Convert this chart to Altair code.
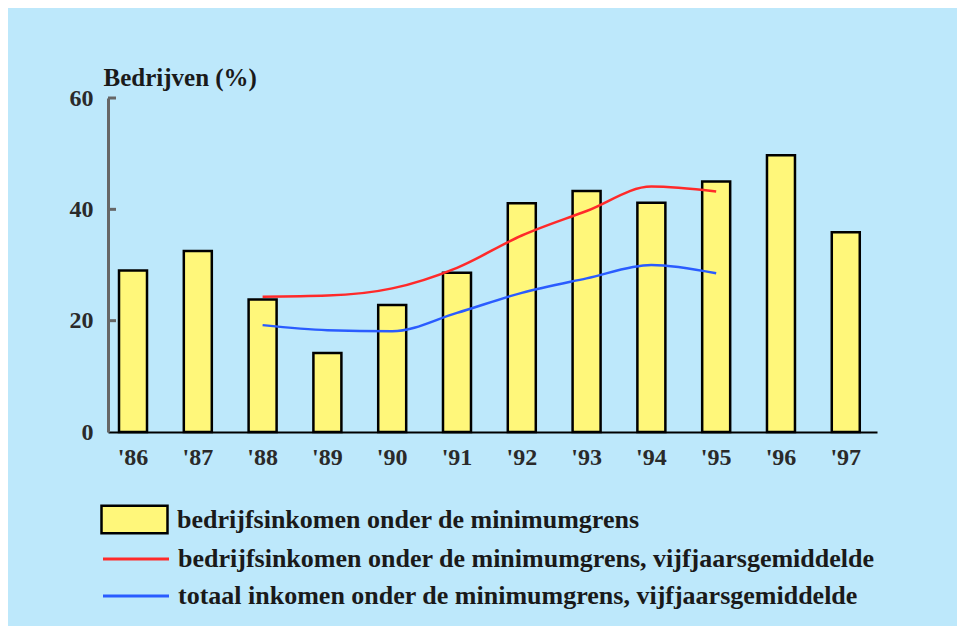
import altair as alt
import pandas as pd

years = ["'86", "'87", "'88", "'89", "'90", "'91", "'92", "'93", "'94", "'95", "'96", "'97"]
bar_values = [29.0, 32.5, 23.8, 14.2, 22.8, 28.6, 41.1, 43.3, 41.2, 45.0, 49.7, 35.9]

line_years = ["'88", "'89", "'90", "'91", "'92", "'93", "'94", "'95"]
red_values = [24.3, 24.5, 25.8, 29.5, 35.3, 39.7, 44.1, 43.2]
blue_values = [19.2, 18.3, 18.1, 21.4, 25.0, 27.6, 30.0, 28.5]

y_ticks = [20, 40, 60]

lab_bar = "bedrijfsinkomen onder de minimumgrens"
lab_red = "bedrijfsinkomen onder de minimumgrens, vijfjaarsgemiddelde"
lab_blue = "totaal inkomen onder de minimumgrens, vijfjaarsgemiddelde"

FONT = "'Liberation Serif', 'Times New Roman', Times, serif"

bar_df = pd.DataFrame({"jaar": years, "waarde": bar_values, "serie": lab_bar})
line_df = pd.DataFrame({
    "jaar": line_years * 2,
    "waarde": red_values + blue_values,
    "serie": [lab_red] * len(line_years) + [lab_blue] * len(line_years),
})
tick_df = pd.DataFrame({"waarde": y_ticks})

x_scale = alt.Scale(domain=years, paddingInner=0.568, paddingOuter=0.218, align=0.39)
y_scale = alt.Scale(domain=[0, 60], nice=False, zero=True)

x_axis = alt.Axis(labelAngle=0, ticks=False, domainColor="black", domainWidth=2,
                  labelFont=FONT, labelFontSize=24, labelFontWeight="bold",
                  labelColor="#2a2a2a", labelPadding=13)
y_axis = alt.Axis(values=[0, 20, 40, 60], ticks=False, grid=False,
                  domainColor="#666", domainWidth=3,
                  labelFont=FONT, labelFontSize=24, labelFontWeight="bold",
                  labelColor="#2a2a2a", labelPadding=15,
                  title="Bedrijven (%)", titleAngle=0, titleX=-5, titleY=-13,
                  titleAlign="left", titleBaseline="alphabetic",
                  titleFont=FONT, titleFontSize=25, titleFontWeight="bold",
                  titleColor="#1a1a1a")

x_enc = alt.X("jaar:N", scale=x_scale, sort=years, title=None, axis=x_axis)
y_enc = alt.Y("waarde:Q", scale=y_scale, title="Bedrijven (%)", axis=y_axis)

bars = alt.Chart(bar_df).mark_bar(stroke="black", strokeWidth=2.5).encode(
    x=x_enc,
    y=y_enc,
    fill=alt.Fill("serie:N", scale=alt.Scale(domain=[lab_bar], range=["#fff77a"]),
                  legend=alt.Legend(title=None, orient="none", legendX=-8, legendY=387,
                                    symbolType="M-1,-0.42H1V0.42H-1Z", symbolSize=4356,
                                    symbolStrokeColor="black", symbolStrokeWidth=2.5,
                                    symbolOpacity=1,
                                    labelFont=FONT, labelFontSize=26, labelFontWeight="bold",
                                    labelColor="#1a1a1a",
                                    labelLimit=900, labelOffset=8)),
)

lines = alt.Chart(line_df).mark_line(strokeWidth=2.5, interpolate="monotone").encode(
    x=x_enc,
    y=y_enc,
    stroke=alt.Stroke("serie:N", scale=alt.Scale(domain=[lab_red, lab_blue],
                                                  range=["#ff2a2a", "#2a5cff"]),
                      legend=alt.Legend(title=None, orient="none", legendX=10, legendY=443,
                                        symbolType="M-2,0H2", symbolSize=1089,
                                        symbolStrokeWidth=3, rowPadding=6,
                                        labelFont=FONT, labelFontSize=26,
                                        labelFontWeight="bold", labelColor="#1a1a1a",
                                        labelLimit=900, labelOffset=24)),
)

ticks = alt.Chart(tick_df).mark_rule(color="#666", strokeWidth=3).encode(
    y=y_enc,
    x=alt.value(0),
    x2=alt.value(8),
)

chart = alt.layer(bars, lines, ticks).properties(
    width=769,
    height=334,
    background="#bde8fb",
    padding={"left": 100, "top": 90, "right": 80, "bottom": 194},
    autosize=alt.AutoSizeParams(type="none"),
).configure_view(stroke=None).configure_axis(
    labelFont=FONT, titleFont=FONT
).configure_legend(labelFont=FONT)

chart.save("out.html", embed_options={"renderer": "svg", "actions": False})
